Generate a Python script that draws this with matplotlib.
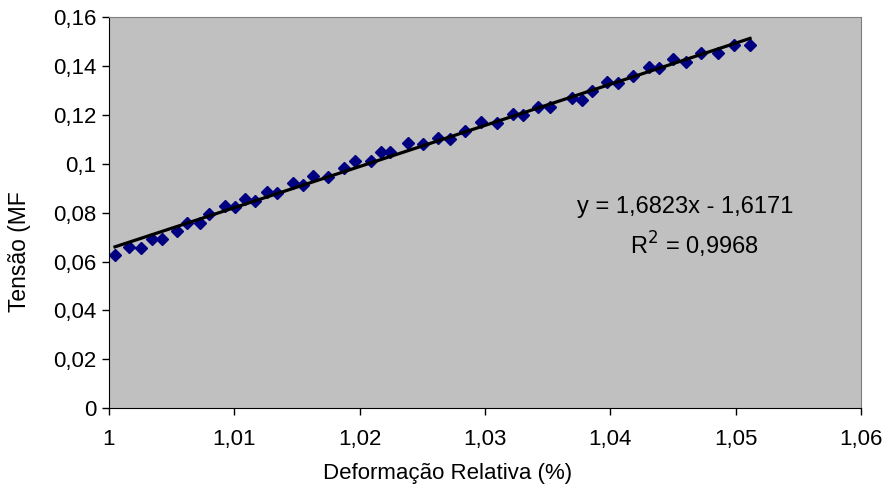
import matplotlib
matplotlib.use("Agg")
from matplotlib import pyplot as plt

plt.rcParams['font.family'] = ['Liberation Sans', 'DejaVu Sans']

# measured points (deformation, stress)
deformacao = [1.00048, 1.0016, 1.00255, 1.00343, 1.00423, 1.00543, 1.00622, 1.00726,
              1.00798, 1.00926, 1.01005, 1.01085, 1.01165, 1.01261, 1.01341, 1.01468,
              1.01548, 1.01628, 1.01747, 1.01875, 1.01963, 1.0209, 1.0217, 1.02242,
              1.02386, 1.02505, 1.02625, 1.02721, 1.02841, 1.02968, 1.03096, 1.03224,
              1.03303, 1.03423, 1.03519, 1.03694, 1.03774, 1.03854, 1.03974, 1.04061,
              1.04181, 1.04309, 1.04389, 1.045, 1.04604, 1.04724, 1.0486, 1.04987, 1.05115]
tensao = [0.0626, 0.0659, 0.0654, 0.0692, 0.0692, 0.0724, 0.0757, 0.0757,
          0.0794, 0.0826, 0.0822, 0.0855, 0.0847, 0.0884, 0.0880, 0.0920,
          0.0912, 0.0949, 0.0945, 0.0982, 0.1010, 0.1010, 0.1047, 0.1047,
          0.1084, 0.1080, 0.1104, 0.1100, 0.1133, 0.1170, 0.1166, 0.1202,
          0.1198, 0.1231, 0.1231, 0.1268, 0.1259, 0.1296, 0.1333, 0.1329,
          0.1357, 0.1394, 0.1390, 0.1427, 0.1414, 0.1451, 0.1451, 0.1484, 0.1484]

# linear trendline as reported in the chart
slope = 1.6823
intercept = -1.6171

x_ticks = [1.0, 1.01, 1.02, 1.03, 1.04, 1.05, 1.06]
x_tick_labels = ["1", "1,01", "1,02", "1,03", "1,04", "1,05", "1,06"]
y_ticks = [0, 0.02, 0.04, 0.06, 0.08, 0.1, 0.12, 0.14, 0.16]
y_tick_labels = ["0", "0,02", "0,04", "0,06", "0,08", "0,1", "0,12", "0,14", "0,16"]

W, H = 888, 495
fig = plt.figure(figsize=(W / 100, H / 100), dpi=100)
ax = fig.add_axes([0.1227, 0.1752, 0.8469, 0.7905])
ax.set_facecolor('#C0C0C0')

ax.plot(deformacao, tensao, 'D', color='#000080', markersize=6, zorder=2)

trend_x = [deformacao[0], deformacao[-1]]
trend_y = [slope * v + intercept for v in trend_x]
ax.plot(trend_x, trend_y, '-', color='black', linewidth=2.3, zorder=3)

ax.set_xlim(1.0, 1.06)
ax.set_ylim(0, 0.16)
ax.set_xticks(x_ticks)
ax.set_xticklabels(x_tick_labels)
ax.set_yticks(y_ticks)
ax.set_yticklabels(y_tick_labels)
ax.tick_params(direction='out', length=5, width=1, labelsize=16, pad=4)
ax.tick_params(axis='x', pad=10)

for side in ['top', 'right']:
    ax.spines[side].set_color('#808080')
for side in ['left', 'bottom']:
    ax.spines[side].set_color('black')

fig.text(448 / W, 1 - 473 / H, "Deformação Relativa (%)", fontsize=16,
         ha='center', va='center')
fig.text(20 / W, 1 - 252 / H, "Tensão (MF", fontsize=16.5, rotation=90,
         ha='center', va='center')

fig.text(685 / W, 1 - 207 / H, "y = 1,6823x - 1,6171", fontsize=17,
         ha='center', va='center')
fig.text(694 / W, 1 - 245 / H, "R$^2$ = 0,9968", fontsize=17,
         ha='center', va='center')

fig.savefig("out.png", dpi=100)
